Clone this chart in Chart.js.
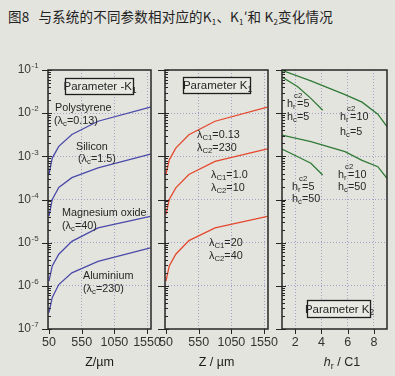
<!DOCTYPE html>
<html>
<head>
<meta charset="utf-8">
<script src="https://cdn.jsdelivr.net/npm/chart.js@4/dist/chart.umd.min.js"></script>
<style>
  html, body { margin: 0; padding: 0; background: #e4e4de; }
  #wrap { position: relative; width: 395px; height: 376px; overflow: hidden; background: #e4e4de; }
  #wrap canvas { position: absolute; left: 0; top: 0; }
  #title { position: absolute; left: 8px; top: 7px; font: 13.5px "Noto Sans CJK SC", sans-serif; color: #222; white-space: nowrap; line-height: 18px; letter-spacing: 0.2px; }
  #title sub { font-size: 8px; vertical-align: -3px; line-height: 0; }
</style>
</head>
<body>
<div id="wrap">
  <div id="title">图8<span style="margin-left:9px">与系统的不同参数相对应的K<sub>1</sub>、K<sub>1</sub>′和 K<sub>2</sub>变化情况</span></div>
  <canvas id="c1" width="395" height="376"></canvas>
  <canvas id="c2" width="395" height="376"></canvas>
  <canvas id="c3" width="395" height="376"></canvas>
</div>
<script>
/* ── K1 / K1' / K2 panels ─────────────────────────────── */

// ── data ────────────────────────────────────────────────
const zValues  = [50, 100, 200, 400, 800, 1600];
const zTicks   = [50, 550, 1050, 1550];
const decades  = [-7, -6, -5, -4, -3, -2, -1];

// Parameter-K1 (blue)
const polystyrene    = [3.8e-4, 9.1e-4, 1.7e-3, 3.2e-3, 6.5e-3, 1.38e-2];
const silicon        = [4.1e-5, 1.0e-4, 1.9e-4, 3.2e-4, 5.4e-4, 1.12e-3];
const magnesiumOxide = [1.29e-6, 2.9e-6, 5.4e-6, 1.07e-5, 2.19e-5, 4.07e-5];
const aluminium      = [2.4e-7, 5.4e-7, 1.07e-6, 2.0e-6, 3.7e-6, 7.6e-6];

// Parameter K1' (red)
const k1_013_230 = [3.8e-4, 8.3e-4, 1.55e-3, 3.16e-3, 6.5e-3, 1.38e-2];
const k1_10_10   = [4.5e-5, 1.0e-4, 1.86e-4, 3.8e-4, 7.6e-4, 1.48e-3];
const k1_20_40   = [1.29e-6, 2.9e-6, 5.4e-6, 1.12e-5, 2.19e-5, 4.07e-5];

// Parameter K2 (green)
const hrLong  = [1, 3.2, 5.8, 7.1, 8.3, 9.0];
const hrShort = [1, 2.2, 3.2, 4.1];
const hrTicks = [2, 4, 6, 8];
const k2_r10_c5  = [0.098, 0.056, 0.027, 0.018, 0.0095, 0.0049];
const k2_r5_c5   = [0.069, 0.041, 0.022, 0.0117];
const k2_r10_c50 = [3.1e-3, 2.2e-3, 1.29e-3, 8.1e-4, 5.75e-4, 3.1e-4];
const k2_r5_c50  = [1.48e-3, 9.8e-4, 6.9e-4, 3.7e-4];

// ── style ───────────────────────────────────────────────
const FONT = '"Liberation Sans", Arial, sans-serif';
const INK  = '#262626';
const GRID = 'rgba(140,140,190,0.75)';

// log ticks: 1..9 x 10^n between the decades
const yTickValues = [];
decades.forEach((e, i) => {
    if (i === decades.length - 1) { yTickValues.push(Math.pow(10, e)); return; }
    for (let k = 1; k <= 9; k++) yTickValues.push(k * Math.pow(10, e));
});
const isDecade = v => { const e = Math.log10(v); return Math.abs(e - Math.round(e)) < 1e-6; };

// ── rich text (sub / sup) helper ────────────────────────
function richParts(ctx, parts, size, draw, x, y) {
    let cx = x;
    parts.forEach(([t, kind, t2]) => {
        const small = size * 0.72;
        if (kind === 'ss') {                       // subscript + superscript stacked
            ctx.font = `${small}px ${FONT}`;
            const w1 = ctx.measureText(t).width, w2 = ctx.measureText(t2).width;
            if (draw) { ctx.fillText(t, cx, y + size * 0.3); ctx.fillText(t2, cx + 1, y - size * 0.72); }
            cx += Math.max(w1, w2 * 0.5);
            return;
        }
        const fs = kind === 'n' || kind === 'i' ? size : small;
        const dy = kind === 'sub' ? size * 0.3 : kind === 'sup' ? -size * 0.45 : 0;
        ctx.font = `${kind === 'i' ? 'italic ' : ''}${fs}px ${FONT}`;
        if (draw) ctx.fillText(t, cx, y + dy);
        cx += ctx.measureText(t).width;
    });
    return cx - x;
}

// ── panels ──────────────────────────────────────────────
const lam = (sub, val) => [['λ', 'n'], [sub, 'sub'], [val, 'n']];
const hr  = val => [['h', 'n'], ['r', 'ss', 'c2'], [val, 'n']];
const hc  = val => [['h', 'n'], ['c', 'sub'], [val, 'n']];

const panels = [
    {
        canvas: 'c1', color: '#4a4aaa',
        area: { left: 48, right: 151, top: 70, bottom: 329 },
        xMin: 35, xMax: 1610, xTicks: zTicks, xTitle: 'Z/µm', tickOut: 6, yLabels: true,
        series: [[zValues, polystyrene], [zValues, silicon], [zValues, magnesiumOxide], [zValues, aluminium]],
        box: { x: 65, y: 78, w: 68, h: 16, parts: [['Parameter -K', 'n'], ['1', 'sub']] },
        notes: [
            [55, 108, [['Polystyrene', 'n']]],
            [54, 121, [['(λ', 'n'], ['c', 'sub'], ['=0.13)', 'n']]],
            [76, 147, [['Silicon', 'n']]],
            [78, 159, [['(λ', 'n'], ['c', 'sub'], ['=1.5)', 'n']]],
            [62, 213, [['Magnesium oxide', 'n']]],
            [62, 226, [['(λ', 'n'], ['c', 'sub'], ['=40)', 'n']]],
            [83, 276, [['Aluminium', 'n']]],
            [83, 289, [['(λ', 'n'], ['c', 'sub'], ['=230)', 'n']]]
        ]
    },
    {
        canvas: 'c2', color: '#e4482e',
        area: { left: 165, right: 268, top: 70, bottom: 329 },
        xMin: 35, xMax: 1610, xTicks: zTicks, xTitle: 'Z / µm', tickOut: 7,
        series: [[zValues, k1_013_230], [zValues, k1_10_10], [zValues, k1_20_40]],
        box: { x: 183, y: 77, w: 67, h: 16, parts: [['Parameter K', 'n'], ['1', 'sub']] },
        notes: [
            [197, 135, lam('C1', '=0.13')], [197, 148, lam('C2', '=230')],
            [211, 175, lam('C1', '=1.0')],  [211, 188, lam('C2', '=10')],
            [209, 243, lam('C1', '=20')],   [209, 256, lam('C2', '=40')]
        ]
    },
    {
        canvas: 'c3', color: '#2f7a37',
        area: { left: 282, right: 387, top: 70, bottom: 329 },
        xMin: 1, xMax: 9, xTicks: hrTicks, tickOut: 6,
        xTitleRich: { x: 342, y: 363, parts: [['h', 'i'], ['r', 'sub'], [' / C1', 'n']] },
        series: [[hrLong, k2_r10_c5], [hrShort, k2_r5_c5], [hrLong, k2_r10_c50], [hrShort, k2_r5_c50]],
        box: { x: 307, y: 300, w: 63, h: 17, parts: [['Parameter K', 'n'], ['2', 'sub']] },
        notes: [
            [287, 104, hr('=5')],  [287, 117, hc('=5')],
            [340, 117, hr('=10')], [340, 132, hc('=5')],
            [338, 175, hr('=10')], [338, 187, hc('=50')],
            [292, 187, hr('=5')],  [292, 199, hc('=50')]
        ]
    }
];

// ── frame, ticks, labels, notes ─────────────────────────
function decorPlugin(p) {
    return {
        id: 'decor',
        afterDraw(chart) {
            const { ctx, chartArea: a, scales: { x, y } } = chart;
            ctx.save();
            ctx.strokeStyle = INK;
            ctx.lineWidth = 1;
            yTickValues.forEach(v => {
                const py = Math.round(y.getPixelForValue(v)) + 0.5;
                ctx.beginPath();
                if (isDecade(v)) { ctx.moveTo(a.left - p.tickOut, py); ctx.lineTo(a.left + 4, py); }
                else             { ctx.moveTo(a.left, py); ctx.lineTo(a.left + 3, py); }
                ctx.stroke();
            });
            p.xTicks.forEach(v => {
                const px = Math.round(x.getPixelForValue(v)) + 0.5;
                ctx.beginPath(); ctx.moveTo(px, a.bottom); ctx.lineTo(px, a.bottom + 5); ctx.stroke();
            });
            ctx.lineWidth = 1.5;
            ctx.strokeRect(a.left, a.top, a.right - a.left, a.bottom - a.top);

            ctx.fillStyle = INK;
            ctx.textBaseline = 'middle';
            if (p.yLabels) {
                ctx.fillStyle = '#3a3a3a';
                decades.forEach(e => {
                    const py = y.getPixelForValue(Math.pow(10, e));
                    ctx.font = `12px ${FONT}`;
                    ctx.textAlign = 'right';
                    ctx.fillText('10', 31, py);
                    ctx.font = `8px ${FONT}`;
                    ctx.textAlign = 'left';
                    ctx.fillText(String(e), 31.5, py - 4);
                });
                ctx.fillStyle = INK;
            }
            ctx.textAlign = 'left';
            p.notes.forEach(([nx, ny, parts]) => richParts(ctx, parts, 10.8, true, nx, ny));

            const b = p.box;
            ctx.fillStyle = '#e9e9e4';
            ctx.fillRect(b.x, b.y, b.w, b.h);
            ctx.lineWidth = 1.3;
            ctx.strokeStyle = '#1e1e1e';
            ctx.strokeRect(b.x + 0.5, b.y + 0.5, b.w, b.h);
            ctx.fillStyle = INK;
            const w = richParts(ctx, b.parts, 11.5, false, 0, 0);
            richParts(ctx, b.parts, 11.5, true, b.x + (b.w - w) / 2 + 1, b.y + b.h / 2 + 1);

            if (p.xTitleRich) {
                const t = p.xTitleRich;
                const tw = richParts(ctx, t.parts, 12.5, false, 0, 0);
                richParts(ctx, t.parts, 12.5, true, t.x - tw / 2, t.y);
            }
            ctx.restore();
        }
    };
}

function buildPanel(p) {
    const datasets = p.series.map(([xs, ys]) => ({
        data: ys.map((v, i) => ({ x: xs[i], y: v })),
        borderColor: p.color,
        borderWidth: 1.3,
        pointRadius: 0,
        tension: 0,
        fill: false
    }));
    new Chart(document.getElementById(p.canvas), {
        type: 'line',
        data: { datasets },
        options: {
            responsive: false,
            animation: false,
            devicePixelRatio: 1,
            layout: { padding: { left: p.area.left - 10, right: 395 - p.area.right, top: p.area.top, bottom: 0 } },
            plugins: { legend: { display: false }, tooltip: { enabled: false } },
            scales: {
                x: {
                    type: 'linear', min: p.xMin, max: p.xMax,
                    afterBuildTicks: s => { s.ticks = p.xTicks.map(v => ({ value: v })); },
                    afterFit: s => { s.height = 376 - p.area.bottom; s.paddingLeft = 0; s.paddingRight = 0; },
                    ticks: { autoSkip: false, maxRotation: 0, padding: 6, color: '#333',
                             font: { family: FONT, size: 12.5 }, callback: v => String(v) },
                    grid: { color: c => (c.tick && c.tick.value > p.xMin + 1e-9) ? GRID : 'transparent',
                            lineWidth: 1, drawTicks: false },
                    border: { display: false, dash: [1, 2] },
                    title: p.xTitle
                        ? { display: true, text: p.xTitle, color: '#1a1a1a',
                            font: { family: FONT, size: 12.5 }, padding: { top: 0, bottom: 6 } }
                        : { display: false }
                },
                y: {
                    type: 'logarithmic', min: 1e-7, max: 1e-1,
                    afterBuildTicks: s => { s.ticks = yTickValues.map(v => ({ value: v })); },
                    afterFit: s => { s.width = 10; },
                    ticks: { display: false },
                    grid: {
                        color: c => (c.tick && isDecade(c.tick.value) && c.tick.value > 2e-7 && c.tick.value < 0.05)
                            ? GRID : 'transparent',
                        lineWidth: 1, drawTicks: false
                    },
                    border: { display: false, dash: [1, 2] }
                }
            }
        },
        plugins: [decorPlugin(p)]
    });
}

panels.forEach(buildPanel);
</script>
</body>
</html>
